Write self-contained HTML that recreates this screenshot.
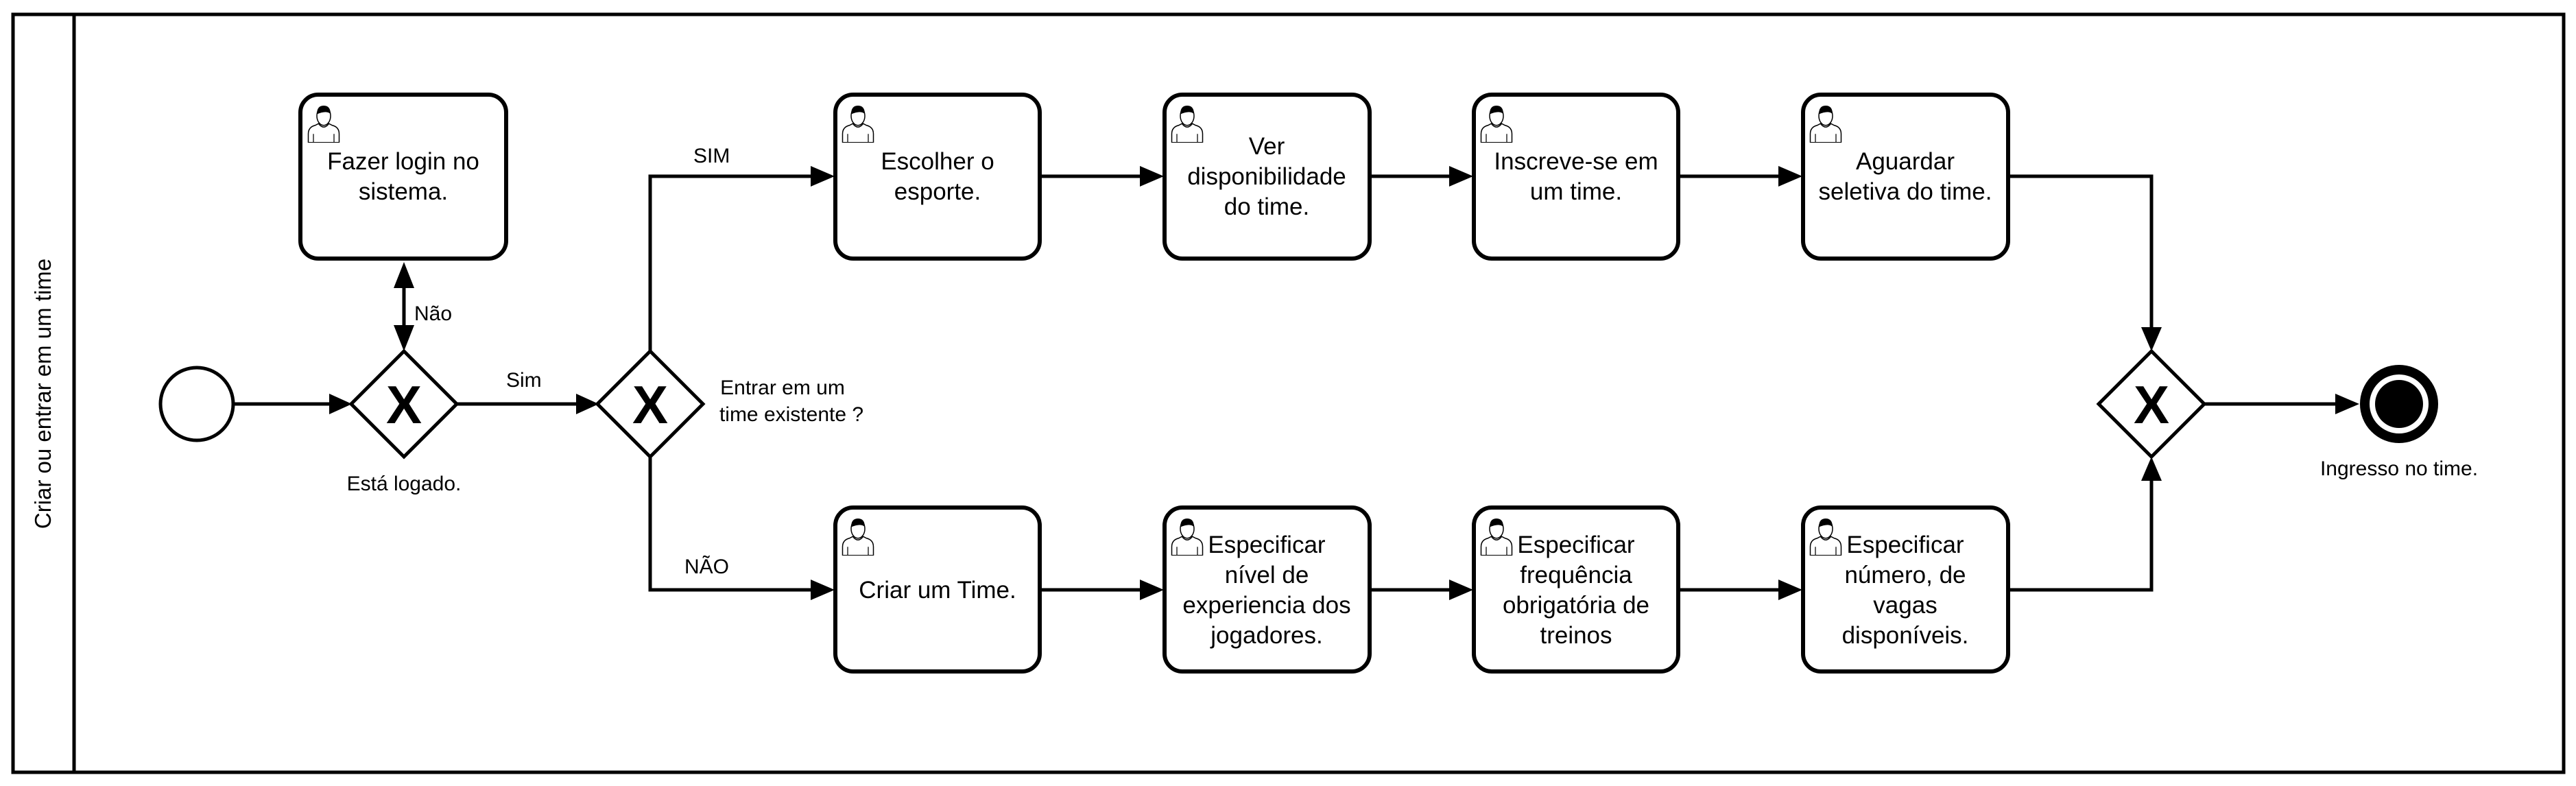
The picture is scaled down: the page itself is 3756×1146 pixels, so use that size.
<!DOCTYPE html>
<html><head><meta charset="utf-8"><style>
html,body{margin:0;padding:0;background:#fff;}
svg{display:block;}
text{font-family:"Liberation Sans",Arial,sans-serif;fill:#000;}
</style></head><body>
<svg width="3756" height="1146" viewBox="0 0 3756 1146" xmlns="http://www.w3.org/2000/svg">
<defs>
<symbol id="user" viewBox="0 0 40 46">
<path d="M2 46 V36 Q2 28 10 26 L14 24 Q20 32 26 24 L30 26 Q38 28 38 36 V46 Z" fill="#fff" stroke="#000" stroke-width="1.2"/>
<line x1="8" y1="36" x2="8" y2="46" stroke="#000" stroke-width="1"/>
<line x1="32" y1="36" x2="32" y2="46" stroke="#000" stroke-width="1"/>
<ellipse cx="20" cy="15" rx="8" ry="11" fill="#fff" stroke="#000" stroke-width="1.2"/>
<path d="M12 13 Q12 3 20 3 Q28 3 28 13 Q24 8 12 13 Z" fill="#000"/>
</symbol>
</defs>
<rect x="19" y="21" width="3719" height="1105" fill="none" stroke="#000" stroke-width="5"/>
<line x1="108" y1="21" x2="108" y2="1126" stroke="#000" stroke-width="5"/>
<text x="0" y="0" font-size="33" text-anchor="middle" transform="translate(74,574) rotate(-90)">Criar ou entrar em um time</text>

<g fill="none" stroke="#000" stroke-width="5">
<circle cx="287" cy="589" r="53"/>
<line x1="340" y1="589" x2="485" y2="589"/>
<line x1="666" y1="589" x2="845" y2="589"/>
<line x1="589" y1="415" x2="589" y2="478"/>
<polyline points="948,512 948,257 1185,257"/>
<polyline points="948,666 948,860 1185,860"/>
<line x1="1517" y1="257" x2="1665" y2="257"/>
<line x1="1998" y1="257" x2="2116" y2="257"/>
<line x1="2448" y1="257" x2="2595" y2="257"/>
<polyline points="2929,257 3137,257 3137,480"/>
<line x1="1517" y1="860" x2="1665" y2="860"/>
<line x1="1998" y1="860" x2="2116" y2="860"/>
<line x1="2448" y1="860" x2="2595" y2="860"/>
<polyline points="2929,860 3137,860 3137,698"/>
<line x1="3214" y1="589" x2="3410" y2="589"/>
</g>
<g fill="#000">
<polygon points="480,574 513,589 480,604"/>
<polygon points="840,574 873,589 840,604"/>
<polygon points="574,420 589,382 604,420"/>
<polygon points="574,474 589,512 604,474"/>
<polygon points="1182,242 1217,257 1182,272"/>
<polygon points="1182,845 1217,860 1182,875"/>
<polygon points="1662,242 1697,257 1662,272"/>
<polygon points="1662,845 1697,860 1662,875"/>
<polygon points="2113,242 2148,257 2113,272"/>
<polygon points="2113,845 2148,860 2113,875"/>
<polygon points="2593,242 2628,257 2593,272"/>
<polygon points="2593,845 2628,860 2593,875"/>
<polygon points="3122,477 3137,512 3152,477"/>
<polygon points="3122,701 3137,666 3152,701"/>
<polygon points="3405,574 3440,589 3405,604"/>
</g>
<g fill="#fff" stroke="#000" stroke-width="5">
<polygon points="589,512 666,589 589,666 512,589"/>
<polygon points="948,512 1025,589 948,666 871,589"/>
<polygon points="3137,512 3214,589 3137,666 3060,589"/>
</g>
<g font-size="78" font-weight="bold" text-anchor="middle">
<text x="589" y="617">X</text>
<text x="948" y="617">X</text>
<text x="3137" y="617">X</text>
</g>
<circle cx="3498" cy="589" r="50" fill="#fff" stroke="#000" stroke-width="14"/>
<circle cx="3498" cy="589" r="35" fill="#000"/>

<g fill="#fff" stroke="#000" stroke-width="6">
<rect x="438" y="138" width="300" height="239" rx="26"/>
<rect x="1218" y="138" width="298" height="239" rx="26"/>
<rect x="1698" y="138" width="299" height="239" rx="26"/>
<rect x="2149" y="138" width="298" height="239" rx="26"/>
<rect x="2629" y="138" width="299" height="239" rx="26"/>
<rect x="1218" y="740" width="298" height="239" rx="26"/>
<rect x="1698" y="740" width="299" height="239" rx="26"/>
<rect x="2149" y="740" width="298" height="239" rx="26"/>
<rect x="2629" y="740" width="299" height="239" rx="26"/>
</g>
<g>
<use href="#user" x="447" y="150" width="50" height="58"/>
<use href="#user" x="1226" y="150" width="50" height="58"/>
<use href="#user" x="1706" y="150" width="50" height="58"/>
<use href="#user" x="2157" y="150" width="50" height="58"/>
<use href="#user" x="2637" y="150" width="50" height="58"/>
<use href="#user" x="1226" y="752" width="50" height="58"/>
<use href="#user" x="1706" y="752" width="50" height="58"/>
<use href="#user" x="2157" y="752" width="50" height="58"/>
<use href="#user" x="2637" y="752" width="50" height="58"/>
</g>
<g font-size="35" text-anchor="middle">
<text x="588" y="247">Fazer login no</text>
<text x="588" y="291">sistema.</text>
<text x="1367" y="247">Escolher o</text>
<text x="1367" y="291">esporte.</text>
<text x="1847" y="225">Ver</text>
<text x="1847" y="269">disponibilidade</text>
<text x="1847" y="313">do time.</text>
<text x="2298" y="247">Inscreve-se em</text>
<text x="2298" y="291">um time.</text>
<text x="2778" y="247">Aguardar</text>
<text x="2778" y="291">seletiva do time.</text>
<text x="1367" y="872">Criar um Time.</text>
<text x="1847" y="806">Especificar</text>
<text x="1847" y="850">nível de</text>
<text x="1847" y="894">experiencia dos</text>
<text x="1847" y="938">jogadores.</text>
<text x="2298" y="806">Especificar</text>
<text x="2298" y="850">frequência</text>
<text x="2298" y="894">obrigatória de</text>
<text x="2298" y="938">treinos</text>
<text x="2778" y="806">Especificar</text>
<text x="2778" y="850">número, de</text>
<text x="2778" y="894">vagas</text>
<text x="2778" y="938">disponíveis.</text>
</g>
<g font-size="30">
<text x="1011" y="237">SIM</text>
<text x="998" y="836">NÃO</text>
<text x="738" y="564">Sim</text>
<text x="604" y="467">Não</text>
<text x="589" y="715" text-anchor="middle">Está logado.</text>
<text x="1141" y="575" text-anchor="middle">Entrar em um</text>
<text x="1154" y="614" text-anchor="middle">time existente ?</text>
<text x="3498" y="693" text-anchor="middle">Ingresso no time.</text>
</g>
</svg>
</body></html>
